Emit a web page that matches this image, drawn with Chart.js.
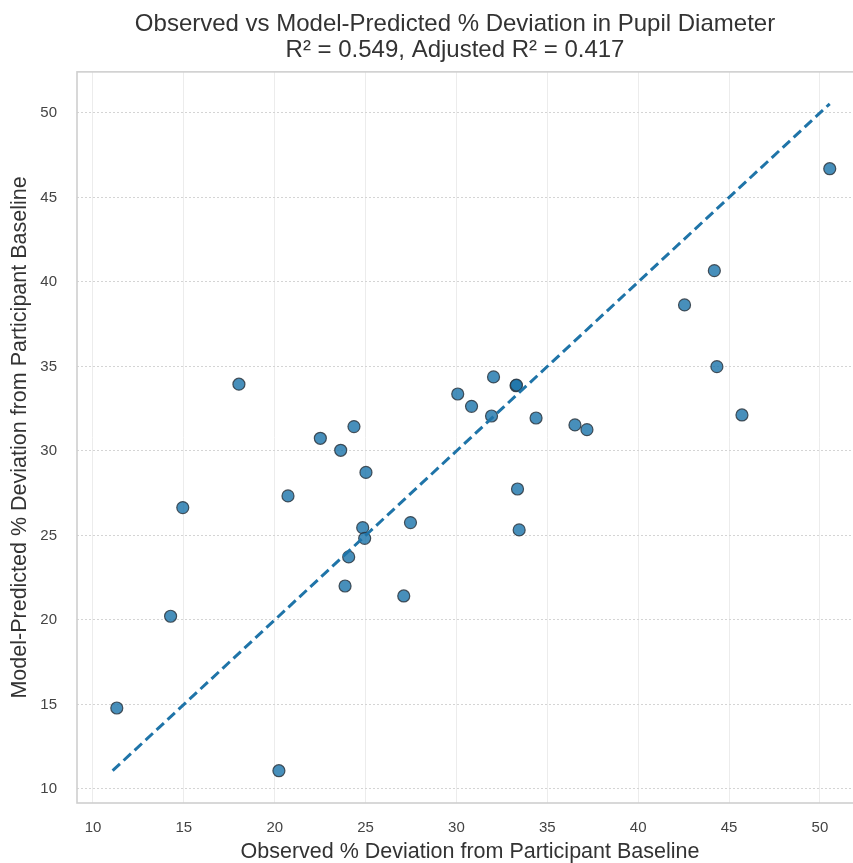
<!DOCTYPE html>
<html>
<head>
<meta charset="utf-8">
<script src="https://cdn.jsdelivr.net/npm/chart.js@4/dist/chart.umd.min.js"></script>
<style>
  html, body { margin: 0; padding: 0; background: #ffffff; overflow: hidden; }
  #wrap { width: 916px; height: 863px; }
</style>
</head>
<body>
<div id="wrap"><canvas id="c" width="916" height="863"></canvas></div>
<script>
// ---- data ----
const observed = [11.31, 14.27, 14.94, 18.03, 20.23, 20.73, 22.51, 23.63, 23.87, 24.07, 24.36,
  24.84, 24.95, 25.02, 27.10, 27.47, 30.07, 30.83, 31.93, 32.04, 33.28, 33.30, 33.36, 33.45,
  34.38, 36.52, 37.18, 42.55, 44.19, 44.33, 45.71, 50.54];
const predicted = [14.79, 20.22, 26.65, 33.95, 11.08, 27.34, 30.75, 30.04, 22.01, 23.73, 31.44,
  25.46, 24.83, 28.73, 21.42, 25.76, 33.37, 32.64, 32.07, 34.38, 33.86, 33.90, 27.75, 25.33,
  31.95, 31.54, 31.26, 38.64, 40.67, 34.99, 32.13, 46.70];
const identityRange = [11.08, 50.54];
const xTicks = [10, 15, 20, 25, 30, 35, 40, 45, 50];
const yTicks = [10, 15, 20, 25, 30, 35, 40, 45, 50];
const titleLines = ["Observed vs Model-Predicted % Deviation in Pupil Diameter",
                    "R\u00B2 = 0.549, Adjusted R\u00B2 = 0.417"];
const xLabel = "Observed % Deviation from Participant Baseline";
const yLabel = "Model-Predicted % Deviation from Participant Baseline";

const points = observed.map((v, i) => ({ x: v, y: predicted[i] }));
const linePts = identityRange.map(v => ({ x: v, y: v }));

const frame = {
  id: 'frame',
  afterDatasetsDraw(chart) {
    const a = chart.chartArea, ctx = chart.ctx;
    ctx.save();
    ctx.strokeStyle = '#cfcfcf';
    ctx.lineWidth = 1.6;
    ctx.strokeRect(a.left, a.top, a.right - a.left, a.bottom - a.top);
    ctx.restore();
  }
};

const FONT = "'Liberation Sans', Arial, sans-serif";

new Chart(document.getElementById('c'), {
  type: 'scatter',
  data: {
    datasets: [
      {
        type: 'line',
        data: linePts,
        borderColor: '#1f74a8',
        borderWidth: 3,
        borderDash: [10, 5],
        pointRadius: 0,
        fill: false,
        order: 0
      },
      {
        data: points,
        backgroundColor: 'rgba(25,115,170,0.8)',
        borderColor: 'rgba(45,55,65,0.85)',
        borderWidth: 1.2,
        pointRadius: 6,
        order: 1
      }
    ]
  },
  plugins: [frame],
  options: {
    responsive: false,
    animation: false,
    layout: { padding: { left: 0, right: 6, top: 0, bottom: 0 } },
    plugins: {
      legend: { display: false },
      tooltip: { enabled: false },
      title: {
        display: true,
        text: titleLines,
        color: '#333333',
        font: { family: FONT, size: 24, weight: 'normal', lineHeight: 1.06 },
        padding: { top: 12, bottom: 9 }
      }
    },
    scales: {
      x: {
        type: 'linear',
        min: 9.12, max: 52.37,
        afterBuildTicks: s => { s.ticks = xTicks.map(v => ({ value: v })); },
        afterFit: s => { s.height = 60; },
        grid: { color: '#ececec', lineWidth: 1, drawTicks: false },
        border: { display: false },
        ticks: { color: '#444444', font: { family: FONT, size: 15 }, padding: 16, maxRotation: 0 },
        title: { display: true, text: xLabel, color: '#333333',
                 font: { family: FONT, size: 21.5, lineHeight: 1 }, padding: { top: 0, bottom: 0 } }
      },
      y: {
        type: 'linear',
        min: 9.17, max: 52.43,
        afterBuildTicks: s => { s.ticks = yTicks.map(v => ({ value: v })); },
        afterFit: s => { s.width = 77; },
        grid: { color: '#d4d4d4', lineWidth: 1, drawTicks: false },
        border: { display: false, dash: [2, 2] },
        ticks: { color: '#444444', font: { family: FONT, size: 15 }, padding: 20 },
        title: { display: true, text: yLabel, color: '#333333',
                 font: { family: FONT, size: 21.5, lineHeight: 1 }, padding: { top: 9, bottom: 0 } }
      },
      yRight: {
        type: 'linear',
        position: 'right',
        min: 9.17, max: 52.43,
        afterFit: s => { s.width = 47; },
        grid: { display: false, drawTicks: false },
        border: { display: false },
        ticks: { display: false },
        title: { display: false }
      }
    }
  },
});
</script>
</body>
</html>
